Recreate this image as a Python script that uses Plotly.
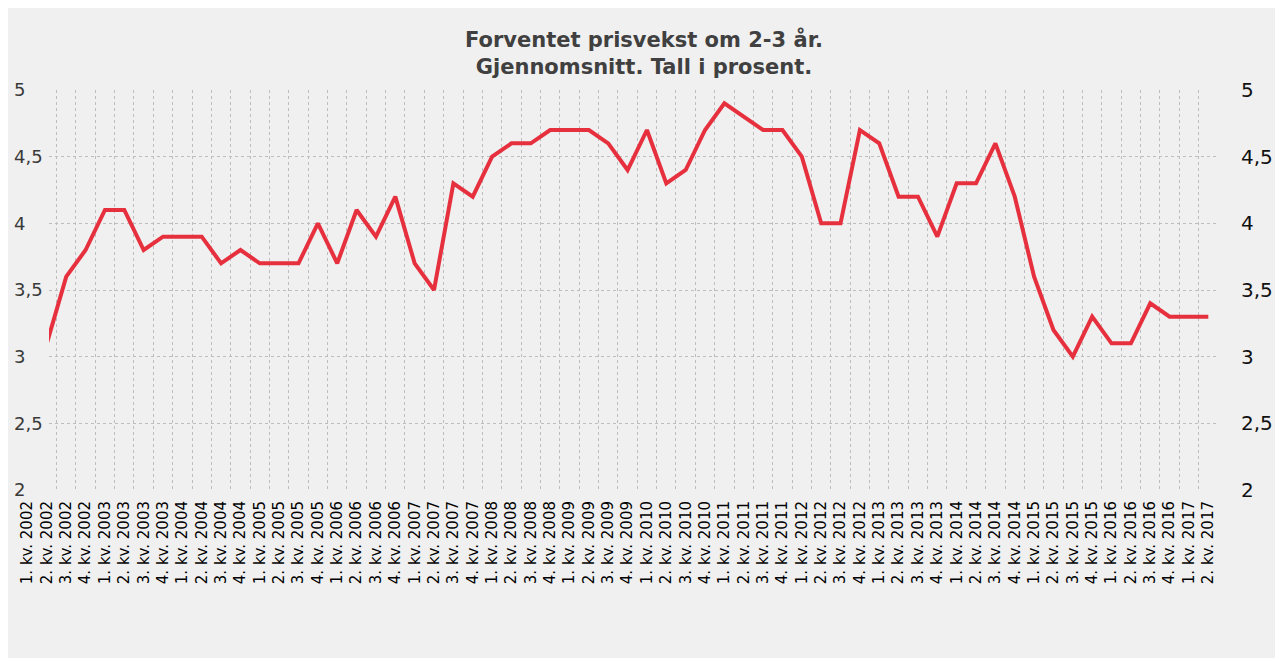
import plotly.graph_objects as go

# ---- data ----
quarters = ["1. kv.", "2. kv.", "3. kv.", "4. kv."]
years = list(range(2002, 2018))
categories = [f"{q} {y}" for y in years for q in quarters][:62]  # 1. kv. 2002 .. 2. kv. 2017

values = [
    None, 3.1, 3.6, 3.8,          # 2002
    4.1, 4.1, 3.8, 3.9,           # 2003
    3.9, 3.9, 3.7, 3.8,           # 2004
    3.7, 3.7, 3.7, 4.0,           # 2005
    3.7, 4.1, 3.9, 4.2,           # 2006
    3.7, 3.5, 4.3, 4.2,           # 2007
    4.5, 4.6, 4.6, 4.7,           # 2008
    4.7, 4.7, 4.6, 4.4,           # 2009
    4.7, 4.3, 4.4, 4.7,           # 2010
    4.9, 4.8, 4.7, 4.7,           # 2011
    4.5, 4.0, 4.0, 4.7,           # 2012
    4.6, 4.2, 4.2, 3.9,           # 2013
    4.3, 4.3, 4.6, 4.2,           # 2014
    3.6, 3.2, 3.0, 3.3,           # 2015
    3.1, 3.1, 3.4, 3.3,           # 2016
    3.3, 3.3,                     # 2017
]
y_ticks = [2, 2.5, 3, 3.5, 4, 4.5, 5]
y_tick_text = ["2", "2,5", "3", "3,5", "4", "4,5", "5"]

title_text = "Forventet prisvekst om 2-3 år.<br>Gjennomsnitt. Tall i prosent."

# ---- layout geometry (px in figure coordinates) ----
W, H = 1270, 650
ML, MR, MT, MB = 2, 60, 62, 148
PW = W - ML - MR
PH = H - MT - MB
plot_left, plot_right = 41, 1210
plot_top, plot_bottom = 82, 482
x_lo, x_hi = 1.11, 61.5
step = (plot_right - plot_left) / (x_hi - x_lo)
lab_lo = -0.5
lab_left = plot_right - (x_hi - lab_lo) * step

xdom = [(plot_left - ML) / PW, (plot_right - ML) / PW]
x2dom = [(lab_left - ML) / PW, (plot_right - ML) / PW]
ydom = [(MT + PH - plot_bottom) / PH, (MT + PH - plot_top) / PH]
unit = (plot_bottom - plot_top) / 3.0
y3range = [2 - (MT + PH - plot_bottom) / unit, 5 + (plot_top - MT) / unit]

x_idx = list(range(len(categories)))

fig = go.Figure()
fig.add_trace(go.Scatter(
    x=x_idx, y=values, mode="lines",
    line=dict(color="#e6303e", width=4),
    hoverinfo="skip", showlegend=False,
))
invisible = dict(mode="lines", line=dict(color="rgba(0,0,0,0)", width=0),
                 hoverinfo="skip", showlegend=False)
fig.add_trace(go.Scatter(x=x_idx, y=values, xaxis="x", yaxis="y2", **invisible))
fig.add_trace(go.Scatter(x=x_idx, y=values, xaxis="x3", yaxis="y3", **invisible))
fig.add_trace(go.Scatter(x=x_idx, y=values, xaxis="x2", yaxis="y4", **invisible))

grid_col = "#bdbdbd"
hidden_axis = dict(showticklabels=False, showgrid=False, zeroline=False,
                   showline=False, ticks="")
fig.update_layout(
    width=W, height=H,
    margin=dict(l=ML, r=MR, t=MT, b=MB),
    paper_bgcolor="#f0f0f0",
    plot_bgcolor="rgba(0,0,0,0)",
    font=dict(family="DejaVu Sans, Verdana, sans-serif", color="#000000"),
    title=dict(
        text=title_text, x=636 / W, xref="container", xanchor="center",
        y=1 - 39 / H, yref="container", yanchor="middle",
        font=dict(size=21, color="#404040", family="DejaVu Sans, Verdana, sans-serif", weight="bold"),
    ),
    xaxis=dict(
        domain=xdom, anchor="y",
        range=[x_lo, x_hi],
        showticklabels=False,
        showgrid=False, zeroline=False, showline=False, ticks="",
        minor=dict(tickmode="linear", tick0=0.5, dtick=1, showgrid=True,
                   gridcolor=grid_col, griddash="3px,3px", gridwidth=1, ticks=""),
    ),
    xaxis2=dict(
        domain=x2dom, anchor="y4",
        range=[lab_lo, x_hi],
        tickmode="array", tickvals=x_idx, ticktext=categories,
        tickangle=-90, tickfont=dict(size=15, color="#000000"),
        showgrid=False, zeroline=False, showline=False,
        ticks="", ticklen=0, ticklabelstandoff=7,
    ),
    xaxis3=dict(domain=xdom, anchor="y3", range=[x_lo, x_hi], **hidden_axis),
    yaxis=dict(
        domain=ydom, anchor="x",
        range=[2, 5], tickmode="array", tickvals=y_ticks,
        showticklabels=False, showgrid=True, gridcolor=grid_col,
        griddash="3px,3px", gridwidth=1, zeroline=False, showline=False, ticks="",
    ),
    yaxis2=dict(
        range=[2, 5], overlaying="y", side="right", anchor="x",
        tickmode="array", tickvals=y_ticks, ticktext=y_tick_text,
        tickfont=dict(size=20, color="#111111"),
        showgrid=False, zeroline=False, showline=False, ticks="", ticklen=0,
        ticklabelstandoff=22,
    ),
    yaxis3=dict(
        domain=[0, 1], range=y3range, side="left", anchor="free", position=0,
        tickmode="array", tickvals=y_ticks, ticktext=y_tick_text,
        ticklabelposition="inside",
        tickfont=dict(size=18, color="#3a3a3a"),
        showgrid=False, zeroline=False, showline=False, ticks="", ticklen=0,
    ),
    yaxis4=dict(domain=ydom, anchor="x2", range=[2, 5], **hidden_axis),
)

fig.write_html("out.html")
